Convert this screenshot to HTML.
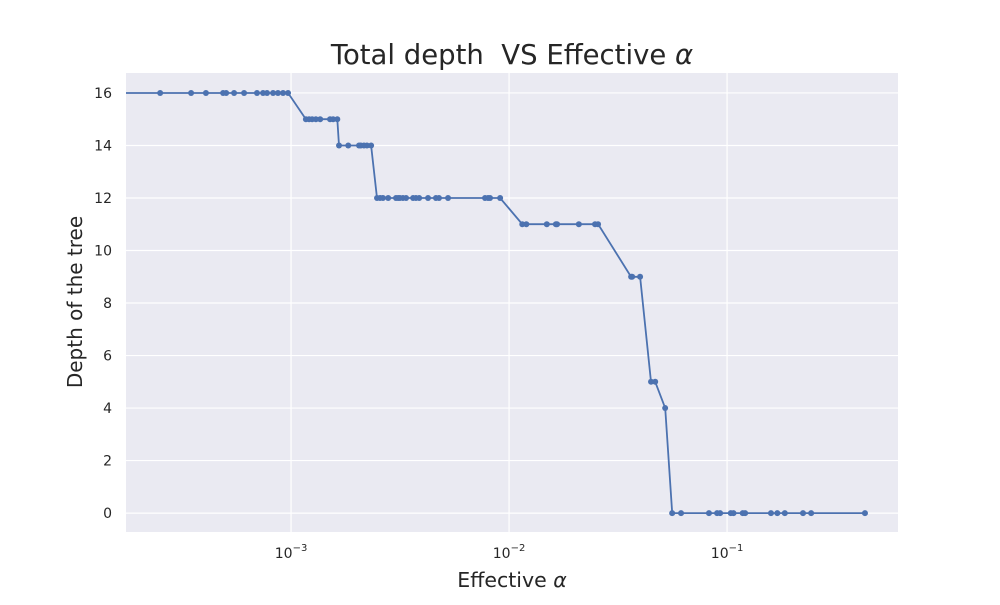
<!DOCTYPE html>
<html><head><meta charset="utf-8"><style>
body{margin:0;background:#fff;}
svg text{font-family:"DejaVu Sans","Liberation Sans",sans-serif;fill:#262626;}
</style></head><body>
<svg id="chart" width="1000" height="600" xmlns="http://www.w3.org/2000/svg">
<defs><clipPath id="clip"><rect x="126" y="73" width="772" height="459"/></clipPath></defs>
<rect x="126" y="73" width="772" height="459" fill="#eaeaf2"/>
<g id="grid"></g>
<g id="ticks"></g>
<g id="series" clip-path="url(#clip)"></g>
<text x="512" y="64" font-size="27.5" text-anchor="middle">Total depth&#160; VS Effective <tspan font-style="italic">α</tspan></text>
<text x="512" y="587" font-size="20.5" text-anchor="middle">Effective <tspan font-style="italic">α</tspan></text>
<text transform="translate(82,302) rotate(-90)" font-size="20" text-anchor="middle">Depth of the tree</text>
</svg>
<script>
const alphas=[1e-4,2.51e-4,3.48e-4,4.07e-4,4.88e-4,5.04e-4,5.48e-4,6.09e-4,6.98e-4,7.44e-4,7.76e-4,8.27e-4,8.71e-4,9.19e-4,9.69e-4,
1.17e-3,1.21e-3,1.25e-3,1.30e-3,1.36e-3,1.51e-3,1.56e-3,1.63e-3,
1.66e-3,1.83e-3,2.05e-3,2.09e-3,2.16e-3,2.23e-3,2.33e-3,
2.48e-3,2.56e-3,2.64e-3,2.79e-3,3.03e-3,3.10e-3,3.16e-3,3.26e-3,3.37e-3,3.63e-3,3.74e-3,3.87e-3,4.25e-3,4.62e-3,4.77e-3,5.25e-3,7.76e-3,8.01e-3,8.18e-3,9.10e-3,
1.15e-2,1.20e-2,1.49e-2,1.64e-2,1.66e-2,2.09e-2,2.48e-2,2.56e-2,
3.63e-2,3.67e-2,3.99e-2,4.48e-2,4.68e-2,5.20e-2,
5.60e-2,6.15e-2,8.26e-2,9.00e-2,9.29e-2,0.104,0.107,0.118,0.121,0.159,0.170,0.184,0.223,0.243,0.429];
const depths=[16,16,16,16,16,16,16,16,16,16,16,16,16,16,16,
15,15,15,15,15,15,15,15,
14,14,14,14,14,14,14,
12,12,12,12,12,12,12,12,12,12,12,12,12,12,12,12,12,12,12,12,
11,11,11,11,11,11,11,11,
9,9,9,5,5,4,
0,0,0,0,0,0,0,0,0,0,0,0,0,0,0];
const yTicks=[0,2,4,6,8,10,12,14,16];
const xTickExps=[-3,-2,-1];
const NS="http://www.w3.org/2000/svg";
const xMinLog=-3.757,xMaxLog=-0.216,yMin=-0.72,yMax=16.76;
const X=a=>126+(Math.log10(a)-xMinLog)/(xMaxLog-xMinLog)*772;
const Y=v=>532-(v-yMin)/(yMax-yMin)*459;
function mk(t,at,parent){const e=document.createElementNS(NS,t);for(const k in at)e.setAttribute(k,at[k]);parent.appendChild(e);return e;}
const grid=document.getElementById('grid'),ticks=document.getElementById('ticks'),ser=document.getElementById('series');
yTicks.forEach(v=>{
 const l=mk('line',{x1:126,x2:898,y1:Y(v),y2:Y(v),stroke:'#fff','stroke-width':1.2},grid);
 
 
 const t=mk('text',{x:112,y:Y(v)+5,'font-size':14,'text-anchor':'end'},ticks);
 t.textContent=v;
 
 
});
xTickExps.forEach(e=>{
 const x=X(Math.pow(10,e));
 const l=mk('line',{x1:x,x2:x,y1:73,y2:532,stroke:'#fff','stroke-width':1.2},grid);
 
 
 const t=mk('text',{x:x,y:558,'font-size':14,'text-anchor':'middle'},ticks);
 t.innerHTML='10<tspan dy="-7" font-size="10">−'+Math.abs(e)+'</tspan>';
 
 
});
const pts=alphas.map((a,i)=>X(a).toFixed(1)+','+Y(depths[i]).toFixed(1)).join(' ');
const pl=mk('polyline',{points:pts,fill:'none',stroke:'#4c72b0','stroke-width':1.8},ser);


alphas.forEach((a,i)=>{
 const c=mk('circle',{cx:X(a),cy:Y(depths[i]),r:3,fill:'#4c72b0'},ser);
 
 
});
</script>
</body></html>
